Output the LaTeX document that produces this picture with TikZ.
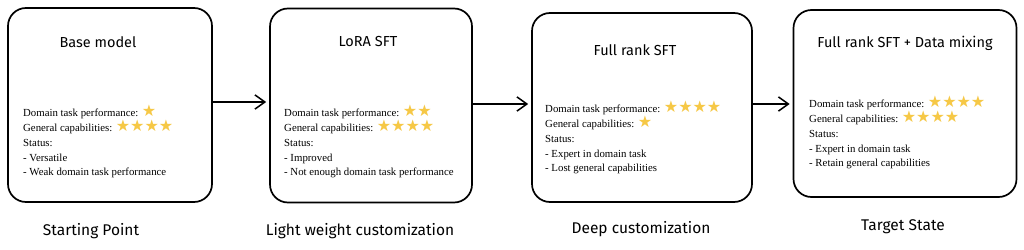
\documentclass[tikz,border=0pt]{standalone}
\usepackage{fontspec}
\setmainfont{Liberation Serif}
\newfontfamily\handfont{Fira Sans}
\newfontfamily\symfont{DejaVu Sans}
\usepackage{xcolor}
\usetikzlibrary{arrows.meta, positioning}

\definecolor{starcol}{RGB}{246,200,70}
% a row of n gold stars
\newcommand{\starrow}[1]{{\symfont\fontsize{16}{12}\selectfont\color{starcol}\foreach \i in {1,...,#1}{★}}}

\begin{document}
\begin{tikzpicture}[
  x=1pt, y=-1pt,
  stagebox/.style={rectangle, rounded corners=18pt, draw=black, line width=1.7pt,
                   fill=white, inner sep=0pt},
  title/.style={font=\handfont\fontsize{14.5}{16}\selectfont, inner sep=0pt},
  body/.style={anchor=north west, align=left, inner sep=0pt,
               font=\fontsize{10.8}{14.8}\selectfont},
  caption/.style={font=\handfont\fontsize{15.5}{17}\selectfont, inner sep=0pt},
  arrow/.style={-{Straight Barb[length=3.5mm, width=5mm]}, line width=1.5pt}
]
\useasboundingbox (0,0) rectangle (1024,249);

% stage boxes
\node[stagebox, minimum width=204pt, minimum height=194pt] (base) at (110,105) {};
\node[stagebox, minimum width=202pt, minimum height=194pt] (lora) at (371,105.5) {};
\node[stagebox, minimum width=220pt, minimum height=189pt] (full) at (642,107.5) {};
\node[stagebox, minimum width=223pt, minimum height=187pt] (mix) at (905,103.5) {};

% titles
\node[title] (basetitle) at (98,42) {Base model};
\node[title] (loratitle) at (368,42) {LoRA SFT};
\node[title] (fulltitle) at (635,50) {Full rank SFT};
\node[title] (mixtitle) at (905,43) {Full rank SFT + Data mixing};

% descriptions
\node[body] (basetext) at (23,105) {Domain task performance: \starrow{1}\\
  General capabilities: \starrow{4}\\Status:\\- Versatile\\- Weak domain task performance};
\node[body] (loratext) at (284,105) {Domain task performance: \starrow{2}\\
  General capabilities: \starrow{4}\\Status:\\- Improved\\- Not enough domain task performance};
\node[body] (fulltext) at (545,101) {Domain task performance: \starrow{4}\\
  General capabilities: \starrow{1}\\Status:\\- Expert in domain task\\- Lost general capabilities};
\node[body] (mixtext) at (809,96) {Domain task performance: \starrow{4}\\
  General capabilities: \starrow{4}\\Status:\\- Expert in domain task\\- Retain general capabilities};

% captions
\node[caption] (basecap) at (91,231) {Starting Point};
\node[caption] (loracap) at (360,231) {Light weight customization};
\node[caption] (fullcap) at (641,229) {Deep customization};
\node[caption] (mixcap) at (903,227) {Target State};

% arrows
\draw[arrow] (base.east |- 0,102) -- ([xshift=-3pt]lora.west |- 0,102);
\draw[arrow] (lora.east |- 0,104) -- ([xshift=-3pt]full.west |- 0,104);
\draw[arrow] (full.east |- 0,104) -- ([xshift=-3pt]mix.west |- 0,104);

\end{tikzpicture}
\end{document}
